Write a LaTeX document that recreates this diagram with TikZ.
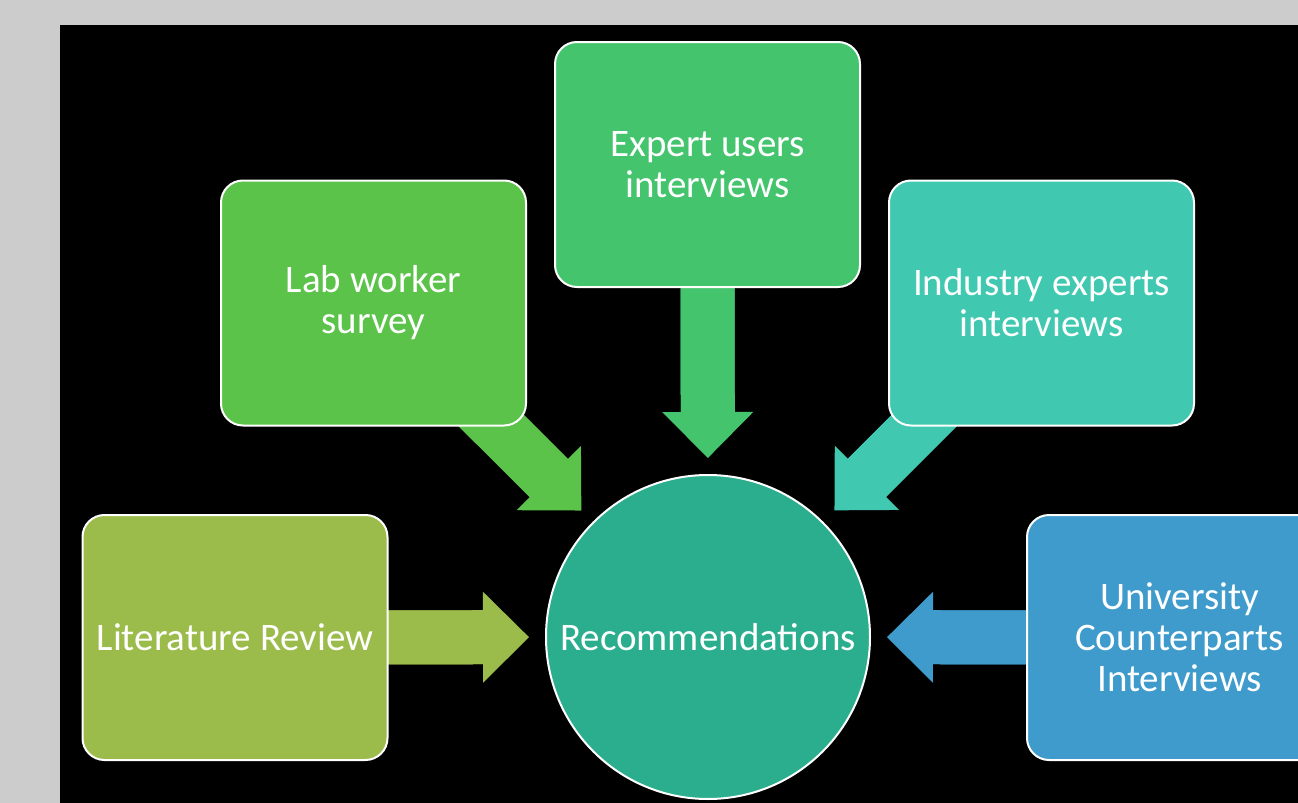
\documentclass[tikz,border=0pt]{standalone}
\usepackage{fontspec}
\setmainfont{Carlito}
\usepackage{xcolor}
\usepackage{tikz}
\usetikzlibrary{shapes.geometric, arrows.meta}

\definecolor{litgreen}{RGB}{155,187,74}
\definecolor{labgreen}{RGB}{91,194,74}
\definecolor{expgreen}{RGB}{69,196,110}
\definecolor{indteal}{RGB}{64,200,176}
\definecolor{unblue}{RGB}{62,155,203}
\definecolor{recteal}{RGB}{43,174,141}
\definecolor{slidegray}{RGB}{204,204,204}

\pgfdeclarelayer{canvas}
\pgfdeclarelayer{links}
\pgfsetlayers{canvas,links,main}

\tikzset{
	source/.style={draw=white, line width=1pt, rounded corners=11pt, minimum width=152.5pt, minimum height=122.5pt, align=center, text=white, font=\fontsize{19.5pt}{20.5pt}\selectfont},
	result/.style={circle, draw=white, line width=1pt, minimum size=162pt, text=white, font=\fontsize{19.5pt}{20.5pt}\selectfont},
	shaft/.style={line width=27pt, shorten >=24pt},
	flow/.style={line width=27pt, -{Triangle[length=23pt, width=45.5pt, line width=0pt]}, shorten >=8pt}
}

\begin{document}
\begin{tikzpicture}[x=0.5pt, y=-0.5pt]
		
		\useasboundingbox (0,0) rectangle (1298,803);
		
		% Slide area
		\begin{pgfonlayer}{canvas}
			\fill[slidegray] (0,0) rectangle (1298,803);
			\fill[black] (60,25) rectangle (1298,803);
		\end{pgfonlayer}
		
		% Centre
		\node[result, fill=recteal] (rec) at (708,637) {Recommendations};
		
		% Inputs
		\node[source, fill=litgreen] (lit) at (235,637.5) {Literature Review};
		\node[source, fill=labgreen] (lab) at (373.5,303) {Lab worker\\survey};
		\node[source, fill=expgreen] (exp) at (707.5,164.5) {Expert users\\interviews};
		\node[source, fill=indteal] (ind) at (1041.5,303) {Industry experts\\interviews};
		\node[source, fill=unblue] (uni) at (1179.5,637.5) {University\\Counterparts\\Interviews};
		
		% Arrows into the centre (shaft runs into the head so no seam shows)
		\begin{pgfonlayer}{links}
			\foreach \src/\col in {lit/litgreen, lab/labgreen, exp/expgreen, ind/indteal, uni/unblue} {
				\draw[shaft, \col] (\src.center) -- (rec);
				\draw[flow, \col] (\src.center) -- (rec);
			}
		\end{pgfonlayer}
		
	\end{tikzpicture}
\end{document}
